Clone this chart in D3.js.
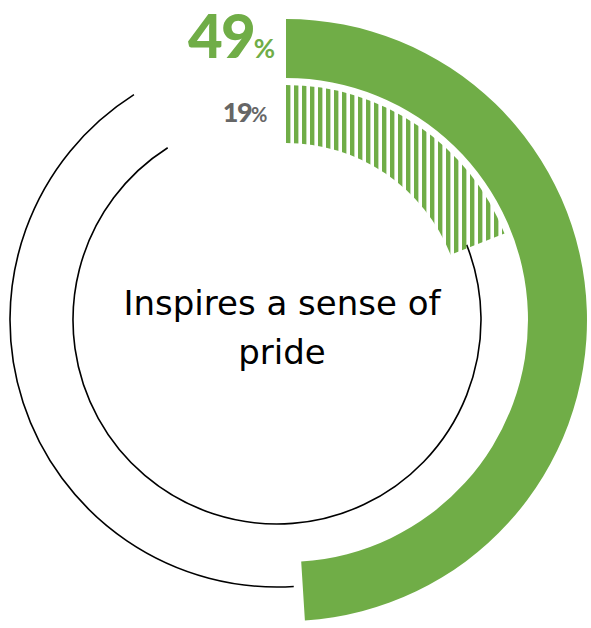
<!DOCTYPE html>
<html>
<head>
<meta charset="utf-8">
<script src="https://cdn.jsdelivr.net/npm/d3@7"></script>
<style>
  html, body { margin: 0; padding: 0; background: #fff; }
  svg { display: block; }
</style>
</head>
<body>
<svg id="chart" width="591" height="628"></svg>
<script>
// Chart data
const categories = ["Inspires a sense of pride"];
const labelLines = ["Inspires a sense of", "pride"];
const seriesNames = ["Outer", "Inner"];
const outerValues = [49];
const innerValues = [19];
const trackEnd = [91]; // where the thin remainder tracks stop (percent of full turn)

const W = 591, H = 628;
const green = "#70AD47";
const grey = "#666666";

const svg = d3.select("#chart");

// percent -> angle
const angle = d3.scaleLinear().domain([0, 100]).range([0, 2 * Math.PI]);

// Centres: value rings and remainder tracks
const cxV = 286, cyV = 320;
const cxT = 277, cyT = 320;

// Hatch pattern for the inner ring
const defs = svg.append("defs");
const pat = defs.append("pattern")
  .attr("id", "vhatch")
  .attr("patternUnits", "userSpaceOnUse")
  .attr("x", 288).attr("y", 0)
  .attr("width", 8).attr("height", 8);
pat.append("rect").attr("x", 0).attr("y", 0)
  .attr("width", 4.4).attr("height", 8).attr("fill", green);

// Remainder tracks (thin black lines)
const gT = svg.append("g").attr("transform", `translate(${cxT},${cyT})`);
const trackRadii = [267, 204];
const trackStarts = [outerValues[0], innerValues[0]];
trackRadii.forEach((r, i) => {
  const a0 = angle(trackStarts[i]);
  const a1 = angle(trackEnd[0]);
  const p = d3.path();
  p.arc(0, 0, r, a0 - Math.PI / 2, a1 - Math.PI / 2, false);
  gT.append("path")
    .attr("d", p.toString())
    .attr("fill", "none")
    .attr("stroke", "#000")
    .attr("stroke-width", 1.6);
});

// Value rings
const gV = svg.append("g").attr("transform", `translate(${cxV},${cyV})`);
const outerArc = d3.arc().innerRadius(242).outerRadius(301).startAngle(0);
const innerArc = d3.arc().innerRadius(177).outerRadius(235).startAngle(0);

gV.append("path")
  .datum(outerValues[0])
  .attr("d", d => outerArc({ endAngle: angle(d) }))
  .attr("fill", green);

// inner ring filled by the hatch pattern (pattern is in page coordinates)
gV.append("path")
  .datum(innerValues[0])
  .attr("d", d => innerArc({ endAngle: angle(d) }))
  .attr("fill", "url(#vhatch)");

// Value labels
const numFont = "'Century Gothic', 'URW Gothic', Lato, 'DejaVu Sans', sans-serif";
const t1 = svg.append("text")
  .attr("x", 273).attr("y", 58)
  .attr("text-anchor", "end")
  .attr("font-family", numFont)
  .attr("font-weight", 900)
  .attr("fill", green)
  .attr("letter-spacing", -2);
t1.append("tspan").attr("font-size", 60).text(outerValues[0]);
t1.append("tspan").attr("font-size", 26).attr("font-weight", 700).text("%");

const t2 = svg.append("text")
  .attr("x", 266).attr("y", 122)
  .attr("text-anchor", "end")
  .attr("font-family", numFont)
  .attr("font-weight", 900)
  .attr("fill", grey)
  .attr("letter-spacing", -1.5);
t2.append("tspan").attr("font-size", 27).text(innerValues[0]);
t2.append("tspan").attr("font-size", 20).attr("font-weight", 700).text("%");

// Category label in the middle
const cat = svg.append("text")
  .attr("text-anchor", "middle")
  .attr("font-family", "'Century Gothic', 'URW Gothic', 'DejaVu Sans', sans-serif")
  .attr("font-size", 34)
  .attr("fill", "#000");
labelLines.forEach((line, i) => {
  cat.append("tspan").attr("x", 282).attr("y", 315 + i * 49).text(line);
});
</script>
</body>
</html>
